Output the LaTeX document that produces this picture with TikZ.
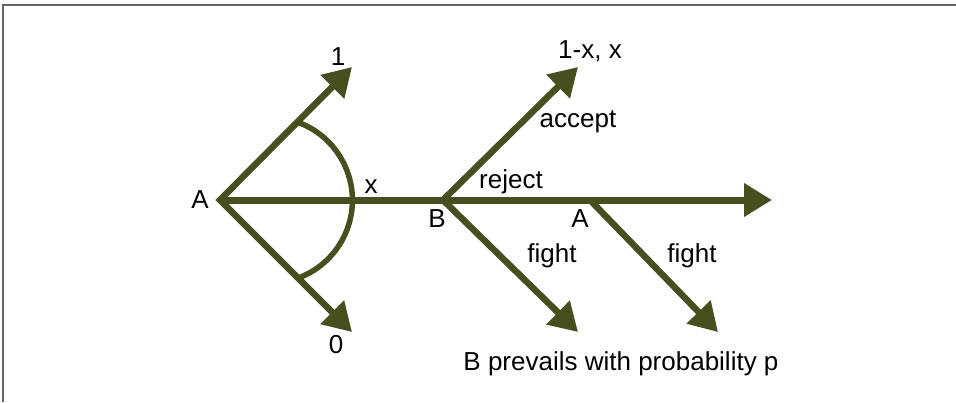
\documentclass[tikz,border=0pt]{standalone}
\usepackage{fontspec}
\setmainfont{Liberation Sans}
\usetikzlibrary{arrows.meta}
\definecolor{olive}{RGB}{72,78,30}
\begin{document}
\begin{tikzpicture}[x=1pt,y=-1pt,
  edge/.style={draw=olive,line width=6.5pt,line join=miter,
    -{Triangle[length=28pt,width=32pt]}},
  twoway/.style={draw=olive,line width=6.5pt,line join=miter,
    {Triangle[length=28pt,width=32pt]}-{Triangle[length=28pt,width=32pt]}},
  lbl/.style={anchor=base,inner sep=0pt,font=\fontsize{26}{30}\selectfont}]
\useasboundingbox (0,0) rectangle (956,402);
\draw[draw=black!60,line width=1.5pt] (3,402) -- (3,5) -- (956,5);
% nodes
\coordinate (A1) at (220,200);
\coordinate (One) at (352,67);
\coordinate (Zero) at (352,332);
\coordinate (B) at (443,200);
\coordinate (Acc) at (578,67);
\coordinate (Fb) at (578,332);
\coordinate (A2) at (590,200);
\coordinate (Fa) at (718,332);
\coordinate (End) at (772,200);
\coordinate (U) at (297.8,122.2);
% connectors
\draw[twoway] (One) -- (A1) -- (Zero);
\draw[edge,line width=7pt] (A1) -- (End);
\draw[twoway] (Acc) -- (B) -- (Fb);
\draw[edge] (A2) -- (Fa);
\draw[draw=olive,line width=5.5pt] (U) arc[start angle=-70,end angle=70,radius=83];
% labels
\node[lbl] (lA1) at (200,208) {A};
\node[lbl] (l1) at (338,65) {1};
\node[lbl] (l0) at (336,353) {0};
\node[lbl] (lx) at (371,193) {x};
\node[lbl] (lB) at (437,227) {B};
\node[lbl] (lrej) at (511,188) {reject};
\node[lbl] (lacc) at (578,127) {accept};
\node[lbl] (lpay) at (590,58) {1-x, x};
\node[lbl] (lA2) at (580,227) {A};
\node[lbl] (lf1) at (552,262) {fight};
\node[lbl] (lf2) at (692,262) {fight};
\node[lbl] (lbp) at (621,370) {B prevails with probability p};
\end{tikzpicture}
\end{document}
